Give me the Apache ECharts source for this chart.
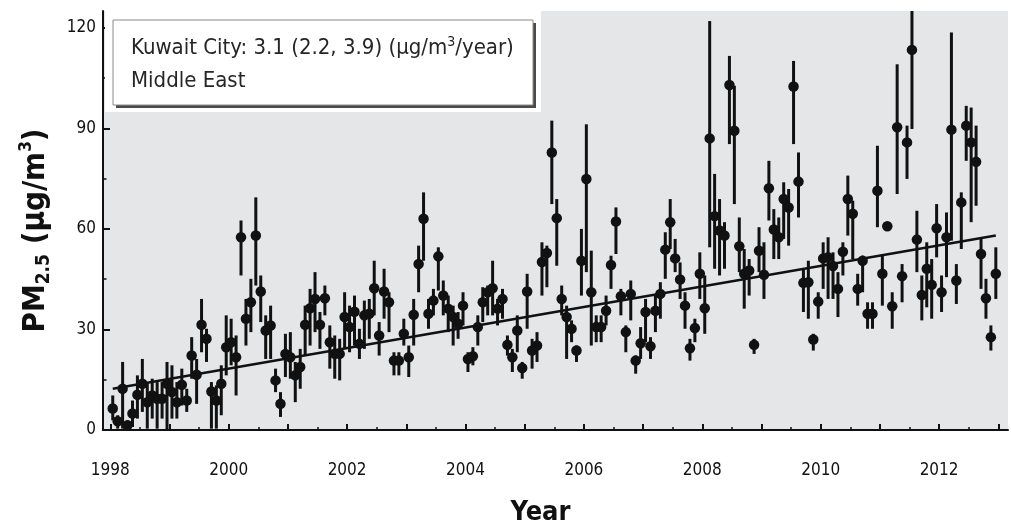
<!DOCTYPE html>
<html>
<head>
<meta charset="utf-8">
<script src="https://cdn.jsdelivr.net/npm/echarts@6/dist/echarts.min.js"></script>
<style>
  html, body { margin: 0; padding: 0; background: #ffffff; }
  #chart { width: 1011px; height: 531px; }
</style>
</head>
<body>
<div id="chart"></div>
<script>
// Monthly PM2.5 estimates for Kuwait City, Jan 1998 – Dec 2012 (µg/m³)
const startYear = 1998;

const pm25 = [
  6.4, 2.6, 12.3, 1.4, 4.9, 10.5, 13.8, 8.3, 10.3, 9.3, 9.3, 13.8,
  11.3, 8.3, 13.5, 8.8, 22.2, 16.5, 31.4, 27.2, 11.5, 8.8, 13.8, 24.7,
  26.2, 21.7, 57.5, 33.2, 38.1, 58.0, 41.3, 29.7, 31.2, 14.8, 7.8, 22.7,
  21.7, 16.3, 18.8, 31.4, 36.3, 39.1, 31.4, 39.3, 26.2, 22.7, 22.7, 33.7,
  30.7, 35.3, 25.7, 34.2, 34.7, 42.3, 28.2, 41.3, 38.1, 20.7, 20.7, 28.7,
  21.7, 34.4, 49.5, 63.0, 34.7, 38.6, 51.8, 40.1, 36.2, 33.7, 31.7, 37.1,
  21.2, 22.0, 30.7, 38.1, 41.1, 42.3, 36.2, 39.1, 25.4, 21.7, 29.7, 18.5,
  41.3, 23.7, 25.2, 50.1, 52.8, 82.8, 63.2, 39.1, 33.7, 30.2, 23.7, 50.5,
  74.9, 41.1, 30.7, 30.7, 35.6, 49.2, 62.2, 39.9, 29.2, 40.6, 20.7, 25.9,
  35.2, 25.0, 35.6, 40.6, 53.8, 62.0, 51.2, 44.9, 37.1, 24.4, 30.4, 46.6,
  36.3, 87.0, 63.8, 59.5, 58.0, 102.9, 89.3, 54.8, 46.6, 47.6, 25.4, 53.5,
  46.3, 72.1, 59.8, 57.5, 68.9, 66.4, 102.5, 74.1, 43.9, 44.1, 27.0, 38.3,
  51.2, 51.5, 48.9, 42.1, 53.2, 68.9, 64.5, 42.1, 50.5, 34.7, 34.7, 71.4,
  46.6, 60.8, 36.9, 90.3, 45.9, 85.8, 113.4, 56.8, 40.3, 48.1, 43.3, 60.2,
  41.1, 57.5, 89.6, 44.6, 67.9, 90.8, 85.8, 80.0, 52.5, 39.3, 27.7, 46.6
];

// Lower and upper bounds of each monthly estimate
const lower = [
  2.9, 0.4, 0.4, 0.0, 0.9, 3.4, 5.4, 0.4, 3.4, 0.4, 3.4, 0.0,
  3.4, 3.4, 7.3, 5.4, 15.3, 7.8, 23.2, 20.3, 0.4, 0.4, 4.4, 16.3,
  19.3, 10.3, 46.1, 25.2, 29.2, 43.1, 32.2, 21.2, 21.2, 11.3, 3.9, 15.8,
  15.3, 8.3, 12.3, 22.2, 25.2, 29.2, 24.2, 34.2, 18.3, 15.3, 14.8, 24.2,
  23.2, 25.2, 21.2, 24.2, 27.2, 34.2, 22.2, 33.2, 29.2, 16.3, 16.3, 25.2,
  15.8, 25.2, 41.1, 50.5, 30.2, 34.2, 41.6, 34.2, 29.2, 25.2, 27.2, 31.2,
  17.3, 19.3, 25.2, 32.2, 34.2, 34.2, 31.2, 33.2, 22.2, 17.3, 23.2, 15.3,
  30.2, 18.3, 20.3, 40.1, 42.6, 67.4, 49.0, 34.2, 21.2, 26.2, 20.3, 40.1,
  47.1, 25.2, 26.2, 26.2, 31.2, 42.1, 52.5, 34.2, 23.2, 32.7, 16.8, 21.2,
  26.2, 21.2, 29.2, 33.2, 45.1, 54.0, 47.1, 39.1, 30.2, 20.7, 26.2, 39.1,
  28.7, 54.5, 48.1, 46.1, 48.1, 85.3, 67.4, 47.1, 36.2, 40.1, 22.7, 47.1,
  39.1, 62.5, 51.0, 51.0, 57.0, 55.0, 85.3, 63.4, 35.2, 33.2, 23.7, 33.2,
  42.1, 39.1, 39.1, 33.7, 46.1, 58.0, 51.0, 37.1, 41.1, 30.2, 30.2, 60.5,
  37.1, 59.5, 30.2, 70.4, 38.1, 74.9, 89.8, 47.1, 32.7, 36.6, 33.2, 51.5,
  35.2, 45.6, 56.5, 37.6, 54.0, 80.3, 62.0, 66.9, 42.1, 33.2, 23.7, 39.1
];

const upper = [
  10.3, 4.4, 20.3, 2.9, 8.8, 16.3, 21.2, 14.3, 15.3, 14.3, 14.3, 20.3,
  19.3, 14.3, 18.3, 12.3, 27.7, 21.2, 39.1, 30.2, 14.3, 13.3, 19.3, 34.2,
  33.2, 28.2, 62.5, 39.1, 45.1, 69.4, 46.1, 34.2, 37.1, 18.3, 11.3, 28.7,
  29.2, 20.3, 24.2, 37.1, 42.1, 47.1, 35.2, 43.1, 31.2, 28.2, 27.2, 41.1,
  37.1, 40.1, 30.2, 38.6, 39.1, 50.5, 32.2, 48.1, 41.1, 23.2, 23.2, 33.2,
  25.2, 39.1, 55.0, 70.9, 39.1, 42.1, 54.5, 44.6, 40.1, 37.1, 35.2, 41.1,
  23.2, 24.7, 34.2, 42.6, 43.1, 50.5, 39.1, 42.1, 28.2, 24.2, 34.2, 20.3,
  46.6, 27.2, 29.2, 56.0, 55.0, 92.3, 68.9, 43.1, 37.1, 32.7, 25.2, 60.0,
  91.2, 53.5, 34.2, 34.2, 40.1, 52.0, 66.4, 42.1, 31.2, 44.6, 22.2, 30.7,
  39.1, 27.7, 40.1, 44.1, 59.0, 68.9, 57.0, 50.0, 41.1, 27.2, 33.2, 53.0,
  46.1, 122.0, 76.4, 68.9, 62.0, 111.6, 102.7, 63.4, 54.0, 51.0, 27.2, 60.5,
  56.0, 80.3, 65.9, 63.4, 73.9, 71.9, 110.1, 82.8, 48.1, 50.5, 28.7, 41.1,
  56.0, 57.5, 53.0, 47.1, 56.0, 75.9, 68.4, 46.6, 52.0, 38.1, 38.1, 84.8,
  52.0, 62.0, 41.1, 109.1, 49.5, 90.8, 125.0, 65.4, 46.1, 56.0, 51.0, 67.4,
  46.1, 64.9, 118.6, 49.5, 70.9, 96.7, 96.2, 90.8, 57.0, 45.1, 31.2, 54.5
];

// Linear trend (3.1 µg/m³/year): fitted values at the first and last month
const trendEnds = [12.3, 58.0];

// Axis ticks and labels
const yearTicks = [1998, 1999, 2000, 2001, 2002, 2003, 2004, 2005, 2006, 2007, 2008, 2009, 2010, 2011, 2012, 2013];
const halfYearTicks = [1998.5, 1999.5, 2000.5, 2001.5, 2002.5, 2003.5, 2004.5, 2005.5, 2006.5, 2007.5, 2008.5, 2009.5, 2010.5, 2011.5, 2012.5];
const yearLabels = [1998, 2000, 2002, 2004, 2006, 2008, 2010, 2012];
const pmTicks = [0, 30, 60, 90, 120];
const pmMinorTicks = [15, 45, 75, 105];

const FONT = "'Liberation Sans Narrow', 'DejaVu Sans Condensed', 'Liberation Sans', sans-serif";
const INK = '#111111';

// Month midpoints as decimal years
const monthTime = pm25.map((_, i) => startYear + (i + 0.5) / 12);
const points = pm25.map((v, i) => [monthTime[i], v]);
const bars = pm25.map((_, i) => [monthTime[i], lower[i], upper[i]]);
const trend = [[monthTime[0], trendEnds[0]], [monthTime[monthTime.length - 1], trendEnds[1]]];

const chart = echarts.init(document.getElementById('chart'), null, { renderer: 'canvas' });

const xCommon = { type: 'value', min: 1997.877, max: 2013.164, position: 'bottom', splitLine: { show: false } };
const yCommon = { type: 'value', min: 0, max: 125, position: 'left', splitLine: { show: false } };

chart.setOption({
  animation: false,
  backgroundColor: '#ffffff',
  grid: {
    left: 103, right: 3, top: 11, bottom: 99.5,
    show: true, backgroundColor: '#e5e6e8', borderWidth: 0
  },
  xAxis: [
    Object.assign({}, xCommon, {
      axisLine: { show: true, lineStyle: { color: INK, width: 2 } },
      axisTick: { show: true, inside: true, length: 6, customValues: yearTicks, lineStyle: { color: INK, width: 2 } },
      axisLabel: {
        show: true, customValues: yearLabels, margin: 32,
        color: INK, fontFamily: FONT, fontSize: 17, formatter: v => String(v)
      },
      name: 'Year', nameLocation: 'middle', nameGap: 69,
      nameTextStyle: { fontFamily: FONT, fontWeight: 'bold', fontSize: 27, color: INK, padding: [0, 30, 0, 0] }
    }),
    Object.assign({}, xCommon, {
      axisLine: { show: false },
      axisTick: { show: true, inside: true, length: 3, customValues: halfYearTicks, lineStyle: { color: INK, width: 1.5 } },
      axisLabel: { show: false }
    })
  ],
  yAxis: [
    Object.assign({}, yCommon, {
      axisLine: { show: true, lineStyle: { color: INK, width: 2 } },
      axisTick: { show: true, inside: true, length: 7, customValues: pmTicks, lineStyle: { color: INK, width: 2 } },
      axisLabel: {
        show: true, customValues: pmTicks, margin: 7,
        color: INK, fontFamily: FONT, fontSize: 17, formatter: v => String(v)
      },
      name: '{b|PM}{sub|2.5}{b| (μg/m}{sup|3}{b|)}',
      nameLocation: 'middle', nameRotate: 90, nameGap: 47,
      nameTextStyle: {
        padding: [0, 20, 0, 0],
        rich: {
          b: { fontFamily: FONT, fontWeight: 'bold', fontSize: 31, color: INK, lineHeight: 40, verticalAlign: 'middle' },
          sub: { fontFamily: FONT, fontWeight: 'bold', fontSize: 19, color: INK, lineHeight: 40, verticalAlign: 'bottom', padding: [0, 0, 2, 0] },
          sup: { fontFamily: FONT, fontWeight: 'bold', fontSize: 17, color: INK, lineHeight: 40, verticalAlign: 'top', padding: [2, 0, 0, 0] }
        }
      }
    }),
    Object.assign({}, yCommon, {
      axisLine: { show: false },
      axisTick: { show: true, inside: true, length: 3.5, customValues: pmMinorTicks, lineStyle: { color: INK, width: 1.5 } },
      axisLabel: { show: false }
    })
  ],
  graphic: [
    { type: 'rect', z: 10, shape: { x: 105, y: 11, width: 436, height: 101 }, style: { fill: '#ffffff' } },
    { type: 'rect', z: 11, shape: { x: 116, y: 23, width: 420, height: 85 }, style: { fill: '#4a4a4a' } },
    { type: 'rect', z: 12, shape: { x: 113, y: 20, width: 420, height: 85 }, style: { fill: '#ffffff', stroke: '#8a8a8a', lineWidth: 1 } },
    {
      type: 'text', z: 13, left: 131, top: 32,
      style: {
        text: '{t|Kuwait City: 3.1 (2.2, 3.9) (μg/m}{s|3}{t|/year)}\n{t|Middle East}',
        rich: {
          t: { fontFamily: FONT, fontSize: 22, fill: '#262626', lineHeight: 33, verticalAlign: 'middle' },
          s: { fontFamily: FONT, fontSize: 14, fill: '#262626', lineHeight: 33, verticalAlign: 'top', padding: [3, 0, 0, 0] }
        }
      }
    }
  ],
  series: [
    {
      // vertical error bars for each monthly estimate
      type: 'custom',
      xAxisIndex: 0, yAxisIndex: 0,
      clip: true,
      z: 2,
      data: bars,
      renderItem: function (params, api) {
        const t = api.value(0);
        const lo = api.coord([t, api.value(1)]);
        const hi = api.coord([t, api.value(2)]);
        return {
          type: 'line',
          shape: { x1: lo[0], y1: lo[1], x2: hi[0], y2: hi[1] },
          style: { stroke: INK, lineWidth: 3 }
        };
      }
    },
    {
      type: 'line',
      xAxisIndex: 0, yAxisIndex: 0,
      data: trend,
      symbol: 'none',
      z: 3,
      lineStyle: { color: INK, width: 2.5 }
    },
    {
      type: 'scatter',
      xAxisIndex: 0, yAxisIndex: 0,
      data: points,
      symbol: 'circle',
      symbolSize: 10.5,
      z: 4,
      itemStyle: { color: INK, opacity: 1 }
    }
  ]
});
</script>
</body>
</html>
